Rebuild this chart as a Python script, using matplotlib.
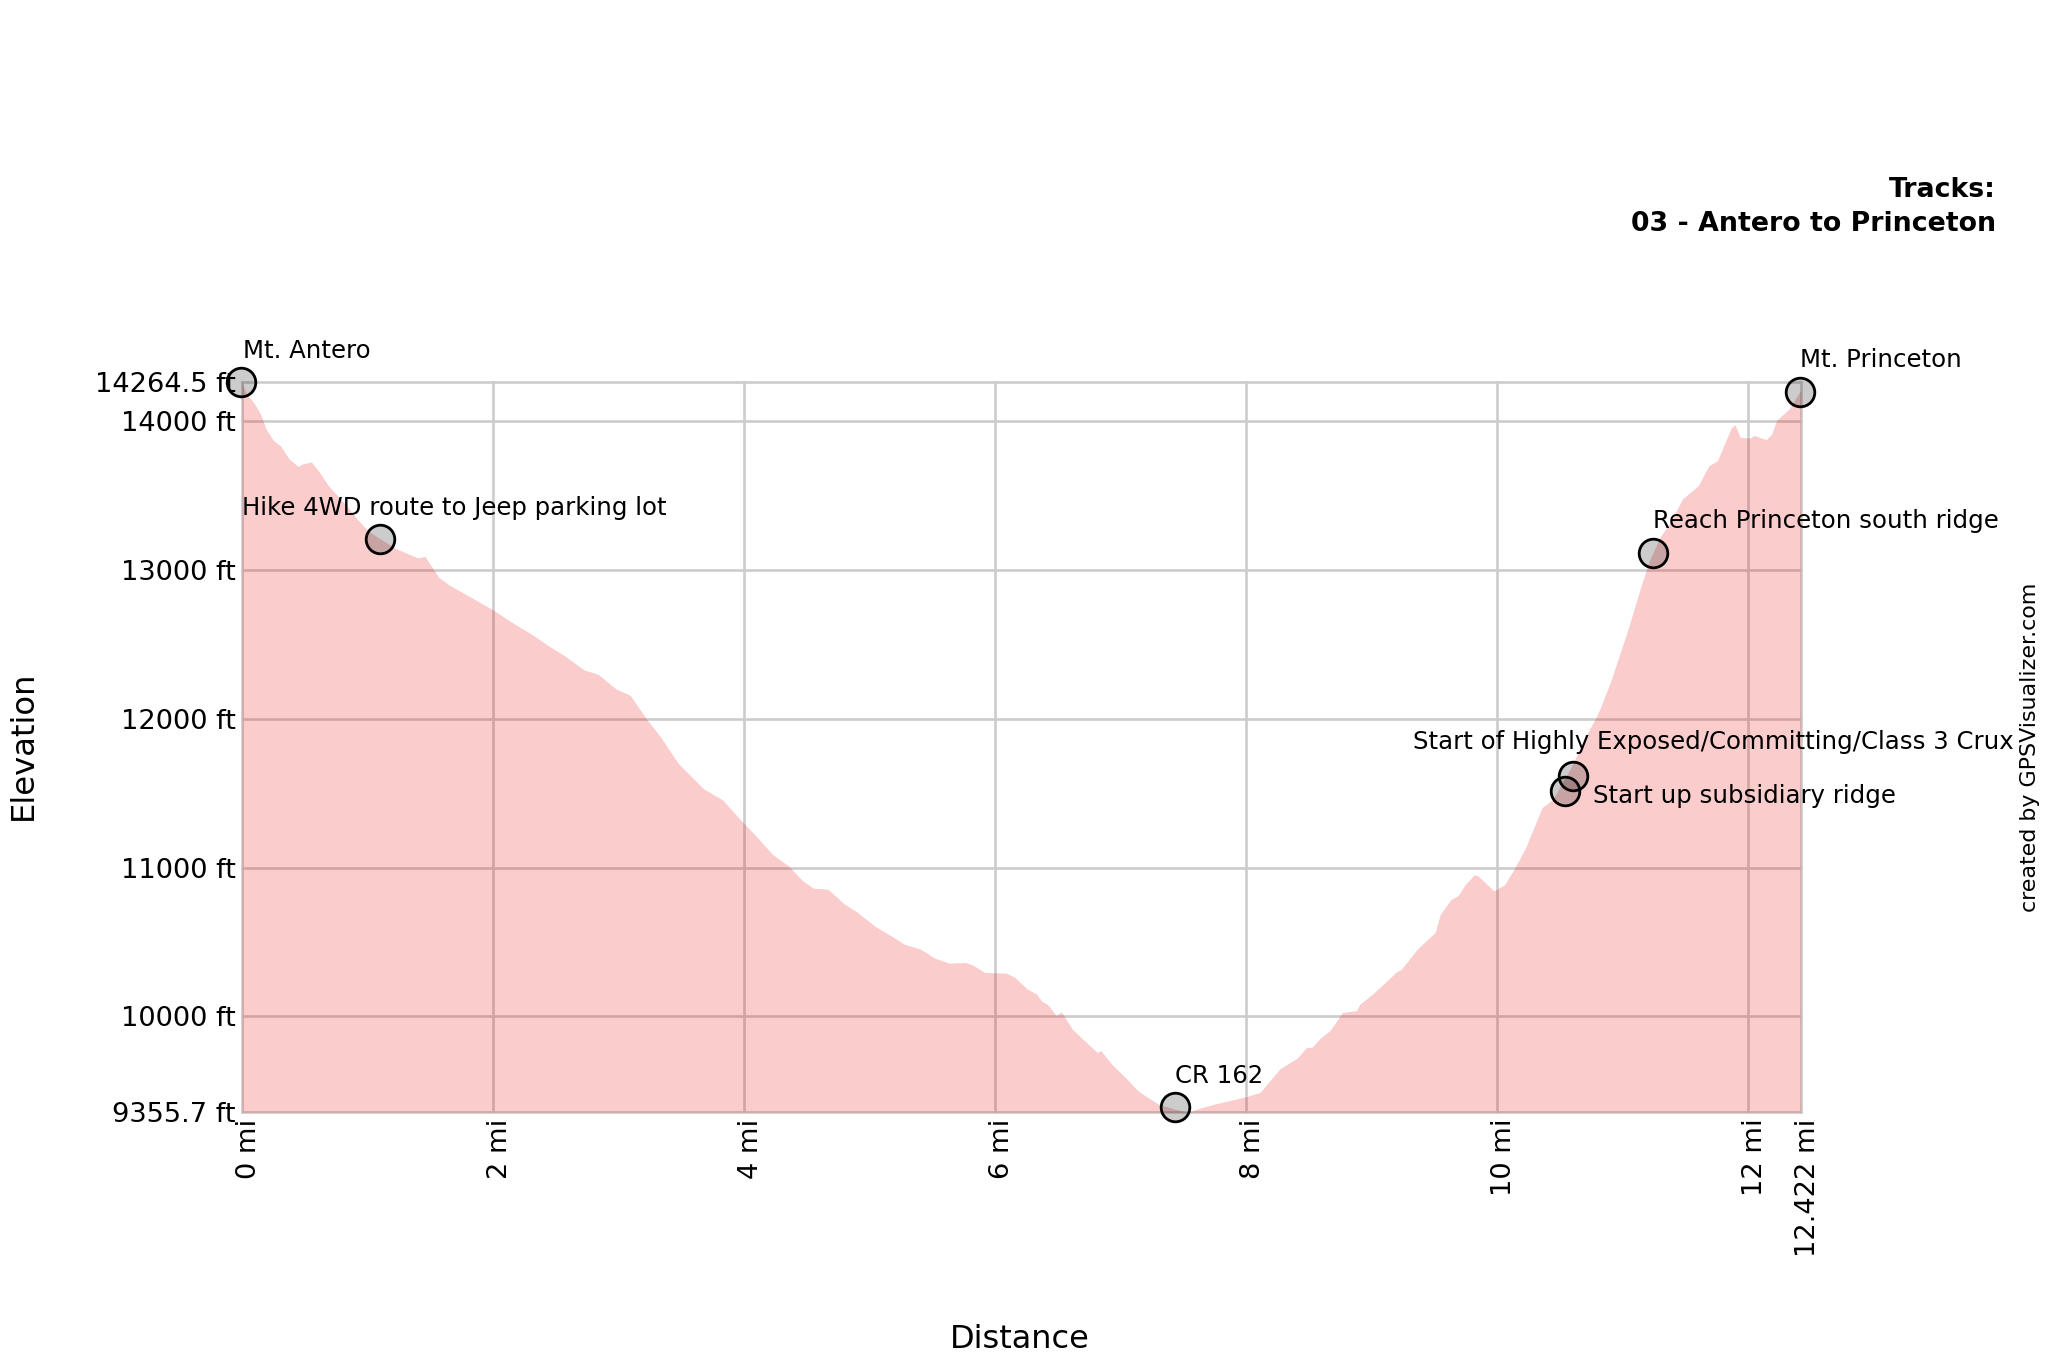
import matplotlib
matplotlib.use("Agg")
import matplotlib.pyplot as plt
from matplotlib.transforms import ScaledTranslation

distance_mi = [0, .037, .094, .15, .193, .25, .307, .378, .45, .478, .555, .62, .69, .762, .834, .919, 1.004, 1.104,
               1.232, 1.403, 1.46, 1.516, 1.568, 1.659, 1.80, 2.0, 2.17, 2.313, 2.44, 2.569, 2.725, 2.84, 2.98, 3.095,
               3.223, 3.337, 3.479, 3.678, 3.835, 3.97, 4.085, 4.228, 4.356, 4.47, 4.555, 4.67, 4.797, 4.896, 5.04,
               5.195, 5.28, 5.408, 5.52, 5.636, 5.764, 5.82, 5.92, 6.09, 6.16, 6.26, 6.333, 6.375, 6.418, 6.49, 6.53,
               6.617, 6.70, 6.816, 6.845, 6.93, 7.044, 7.144, 7.30, 7.428, 7.54, 7.613, 7.755, 8.01, 8.114, 8.27, 8.41,
               8.484, 8.526, 8.6, 8.67, 8.77, 8.88, 8.91, 9.01, 9.195, 9.24, 9.366, 9.508, 9.55, 9.636, 9.69, 9.75,
               9.82, 9.85, 9.977, 10.06, 10.13, 10.23, 10.36, 10.447, 10.59, 10.73, 10.785, 10.827, 10.91, 11.05,
               11.146, 11.216, 11.3, 11.383, 11.48, 11.605, 11.689, 11.758, 11.83, 11.87, 11.897, 11.94, 12.02, 12.05,
               12.147, 12.19, 12.23, 12.328, 12.41, 12.422]
elevation_ft = [14264, 14181, 14125, 14047, 13946, 13872, 13834, 13745, 13694, 13711, 13725, 13655, 13566, 13499, 13432,
                13342, 13264, 13208, 13141, 13081, 13090, 13018, 12951, 12895, 12828, 12732, 12638, 12566, 12492, 12425,
                12329, 12298, 12201, 12157, 12000, 11877, 11698, 11530, 11452, 11324, 11224, 11089, 11011, 10910, 10861,
                10855, 10758, 10705, 10609, 10530, 10485, 10452, 10392, 10358, 10362, 10347, 10295, 10291, 10262, 10183,
                10150, 10101, 10083, 10005, 10031, 9915, 9848, 9758, 9770, 9680, 9586, 9497, 9412, 9378, 9356, 9378,
                9412, 9462, 9490, 9647, 9720, 9792, 9792, 9859, 9904, 10027, 10038, 10083, 10150, 10295, 10318, 10452,
                10564, 10687, 10787, 10810, 10888, 10951, 10944, 10843, 10884, 10978, 11134, 11403, 11459, 11671, 11917,
                12000, 12078, 12257, 12615, 12884, 13063, 13219, 13320, 13477, 13566, 13700, 13734, 13879, 13957, 13975,
                13890, 13886, 13904, 13875, 13913, 14007, 14080, 14192, 14200]

waypoint_names = ["Mt. Antero", "Hike 4WD route to Jeep parking lot", "CR 162", "Start up subsidiary ridge",
                  "Start of Highly Exposed/Committing/Class 3 Crux", "Reach Princeton south ridge", "Mt. Princeton"]
waypoint_mi = [-0.008, 1.104, 7.437, 10.546, 10.61, 11.244, 12.412]
waypoint_ft = [14264.5, 13210, 9389, 11514, 11615, 13112, 14197]

x_ticks = [0, 2, 4, 6, 8, 10, 12, 12.422]
x_tick_labels = ["0 mi", "2 mi", "4 mi", "6 mi", "8 mi", "10 mi", "12 mi", "12.422 mi"]
y_ticks = [9355.7, 10000, 11000, 12000, 13000, 14000, 14264.5]
y_tick_labels = ["9355.7 ft", "10000 ft", "11000 ft", "12000 ft", "13000 ft", "14000 ft", "14264.5 ft"]

W, H = 2048, 1365
fig = plt.figure(figsize=(W / 100, H / 100), dpi=100, facecolor="white")
ax = fig.add_axes([241.8 / W, (H - 1112.3) / H, (1800.8 - 241.8) / W, (1112.3 - 381.7) / H])
ax.set_xlim(x_ticks[0], x_ticks[-1])
ax.set_ylim(y_ticks[0], y_ticks[-1])
for s in ax.spines.values():
    s.set_visible(False)
ax.set_axisbelow(True)
ax.grid(True, color="#cccccc", linewidth=1.9, zorder=1)
ax.set_xticks(x_ticks, x_tick_labels, rotation=90, fontsize=19.6)
ax.set_yticks(y_ticks, y_tick_labels, fontsize=19.6)
for gl in ax.get_xgridlines() + ax.get_ygridlines():
    gl.set_clip_on(False)
ax.tick_params(length=0, pad=4.5)
shift = ScaledTranslation(7.5 / 100, 0, fig.dpi_scale_trans)
for lab in ax.get_xticklabels():
    lab.set_transform(lab.get_transform() + shift)

ax.fill_between(distance_mi, elevation_ft, y_ticks[0], color="#e60000", alpha=0.2, linewidth=0, zorder=2,
                clip_on=False)
ax.plot(waypoint_mi, waypoint_ft, linestyle="none", marker="o", markersize=20.6, markerfacecolor=(0, 0, 0, 0.2),
        markeredgecolor="black", markeredgewidth=2.0, clip_on=False, zorder=4)

label_offsets = [(2, 24), (-138, 24), (0, 24), (28, -12), (-160, 27), (0, 25), (0, 25)]
for name, xv, yv, off in zip(waypoint_names, waypoint_mi, waypoint_ft, label_offsets):
    ax.annotate(name, (xv, yv), xytext=off, textcoords="offset pixels", fontsize=17.6, ha="left", va="baseline",
                color="black", zorder=5, annotation_clip=False)

fig.text(1996 / W, 1 - 197 / H, "Tracks:", ha="right", va="baseline", fontsize=19.3, fontweight="bold")
fig.text(1996 / W, 1 - 231 / H, "03 - Antero to Princeton", ha="right", va="baseline", fontsize=19.3, fontweight="bold")
fig.text(1020 / W, 1 - 1339 / H, "Distance", ha="center", va="center", fontsize=23)
fig.text(23 / W, 1 - 745 / H, "Elevation", ha="center", va="center", rotation=90, fontsize=23.2)
fig.text(2030 / W, 1 - 747 / H, "created by GPSVisualizer.com", ha="center", va="center", rotation=90, fontsize=15.9)

fig.savefig("out.png", dpi=100, facecolor="white")
